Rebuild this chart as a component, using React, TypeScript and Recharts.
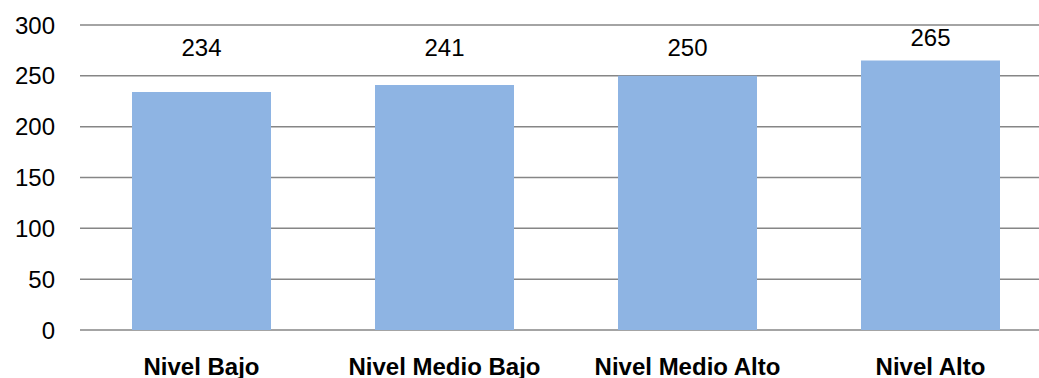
import { BarChart, Bar, XAxis, YAxis, CartesianGrid, LabelList } from "recharts";

const categories = ["Nivel Bajo", "Nivel Medio Bajo", "Nivel Medio Alto", "Nivel Alto"];
const values = [234, 241, 250, 265];
const yTicks = [0, 50, 100, 150, 200, 250, 300];

const data = categories.map((name, i) => ({ name, value: values[i] }));

const font = "'Liberation Sans', Arial, sans-serif";

// Excel-style value label: floats above the bar but stays in the top band
const renderLabel = (props: any) => {
    const { x, y, width, value } = props;
    const ty = Math.min(y - 23, 47);
    return (
        <text x={x + width / 2} y={ty} textAnchor="middle" dominantBaseline="central"
            fontSize={24} fill="#000" fontFamily={font}>
            {value}
        </text>
    );
};

export default function App() {
    return (
        <div style={{ position: "fixed", left: 0, top: 0, width: 1039, height: 378, overflow: "hidden", background: "#fff" }}>
            <BarChart width={1052} height={378} data={data} barCategoryGap="21.4%"
                margin={{ top: 25, right: 0, bottom: 0, left: 0 }}>
                <CartesianGrid vertical={false} stroke="#868686" strokeWidth={1.5} />
                <XAxis dataKey="name" axisLine={false} tickLine={false} tickSize={0} tickMargin={28} height={48}
                    interval={0} tick={{ fontSize: 24, fontWeight: "bold", fill: "#000", fontFamily: font }} />
                <YAxis domain={[0, 300]} ticks={yTicks} axisLine={false} tickLine={false} tickSize={0} tickMargin={25}
                    width={80} tick={{ fontSize: 24, fill: "#000", fontFamily: font }} />
                <Bar dataKey="value" fill="#8EB4E3" isAnimationActive={false}>
                    <LabelList dataKey="value" content={renderLabel} />
                </Bar>
            </BarChart>
        </div>
    );
}
